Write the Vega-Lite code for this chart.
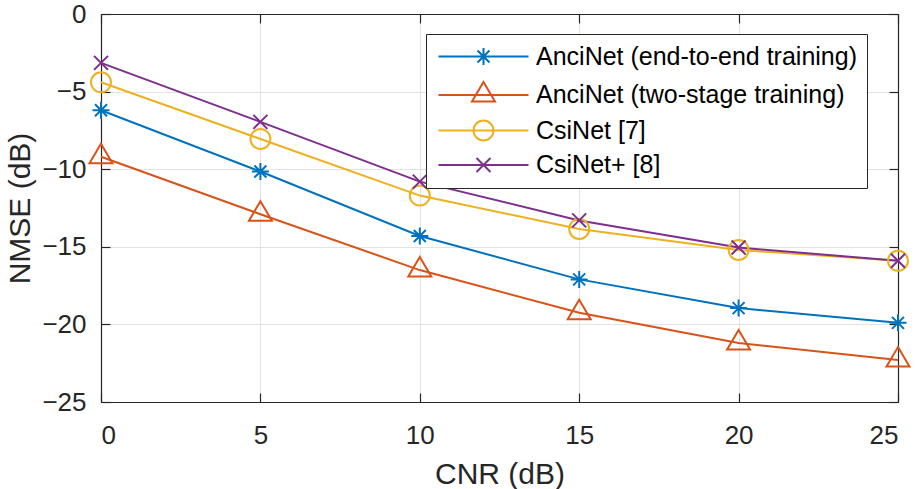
{
  "$schema": "https://vega.github.io/schema/vega-lite/v6.json",
  "width": 797,
  "height": 388,
  "autosize": "none",
  "padding": {"left": 101, "top": 14, "right": 19, "bottom": 87},
  "background": "white",
  "config": {
    "font": "Liberation Sans",
    "view": {"stroke": null},
    "axis": {
      "labelFont": "Liberation Sans",
      "titleFont": "Liberation Sans",
      "labelFontSize": 26,
      "titleFontSize": 30,
      "titleFontWeight": "normal",
      "labelColor": "#262626",
      "titleColor": "#262626",
      "domainColor": "#262626",
      "tickColor": "#262626",
      "gridColor": "#e3e3e3",
      "gridWidth": 1,
      "domainWidth": 1.2,
      "tickWidth": 1.2,
      "tickSize": -9
    },
    "legend": {
      "orient": "none",
      "legendX": 325,
      "legendY": 20,
      "title": null,
      "strokeColor": "#262626",
      "fillColor": "white",
      "padding": 10,
      "rowPadding": 7.5,
      "labelFontSize": 25,
      "labelFont": "Liberation Sans",
      "labelColor": "#000000",
      "labelOffset": 75,
      "labelLimit": 600,
      "symbolSize": 400,
      "symbolStrokeWidth": 2,
      "symbolFillColor": "transparent"
    }
  },
  "data": {
    "values": [
      {"cnr": 0, "nmse": -6.2, "method": "AnciNet (end-to-end training)"},
      {"cnr": 5, "nmse": -10.15, "method": "AnciNet (end-to-end training)"},
      {"cnr": 10, "nmse": -14.3, "method": "AnciNet (end-to-end training)"},
      {"cnr": 15, "nmse": -17.1, "method": "AnciNet (end-to-end training)"},
      {"cnr": 20, "nmse": -18.95, "method": "AnciNet (end-to-end training)"},
      {"cnr": 25, "nmse": -19.9, "method": "AnciNet (end-to-end training)"},
      {"cnr": 0, "nmse": -9.2, "method": "AnciNet (two-stage training)"},
      {"cnr": 5, "nmse": -12.9, "method": "AnciNet (two-stage training)"},
      {"cnr": 10, "nmse": -16.5, "method": "AnciNet (two-stage training)"},
      {"cnr": 15, "nmse": -19.25, "method": "AnciNet (two-stage training)"},
      {"cnr": 20, "nmse": -21.2, "method": "AnciNet (two-stage training)"},
      {"cnr": 25, "nmse": -22.3, "method": "AnciNet (two-stage training)"},
      {"cnr": 0, "nmse": -4.4, "method": "CsiNet [7]"},
      {"cnr": 5, "nmse": -8.05, "method": "CsiNet [7]"},
      {"cnr": 10, "nmse": -11.7, "method": "CsiNet [7]"},
      {"cnr": 15, "nmse": -13.85, "method": "CsiNet [7]"},
      {"cnr": 20, "nmse": -15.2, "method": "CsiNet [7]"},
      {"cnr": 25, "nmse": -15.9, "method": "CsiNet [7]"},
      {"cnr": 0, "nmse": -3.15, "method": "CsiNet+ [8]"},
      {"cnr": 5, "nmse": -6.95, "method": "CsiNet+ [8]"},
      {"cnr": 10, "nmse": -10.8, "method": "CsiNet+ [8]"},
      {"cnr": 15, "nmse": -13.3, "method": "CsiNet+ [8]"},
      {"cnr": 20, "nmse": -15.05, "method": "CsiNet+ [8]"},
      {"cnr": 25, "nmse": -15.9, "method": "CsiNet+ [8]"}
    ]
  },
  "layer": [
    {
      "mark": {"type": "line", "strokeWidth": 2},
      "encoding": {
        "x": {
          "field": "cnr", "type": "quantitative",
          "scale": {"domain": [0, 25], "nice": false, "zero": false},
          "axis": {"values": [0, 5, 10, 15, 20, 25], "title": "CNR (dB)", "labelPadding": 29, "titlePadding": 11, "grid": true, "orient": "bottom"}
        },
        "y": {
          "field": "nmse", "type": "quantitative",
          "scale": {"domain": [-25, 0], "nice": false, "zero": false},
          "axis": {"values": [-25, -20, -15, -10, -5, 0], "title": "NMSE (dB)", "labelPadding": 24, "titlePadding": 6, "grid": true, "orient": "left"}
        },
        "color": {
          "field": "method", "type": "nominal",
          "scale": {
            "domain": ["AnciNet (end-to-end training)", "AnciNet (two-stage training)", "CsiNet [7]", "CsiNet+ [8]"],
            "range": ["#0072BD", "#D95319", "#EDB120", "#7E2F8E"]
          },
          "legend": {
            "symbolType": "M-1,0L8,0",
            "encode": {
              "symbols": {
                "update": {
                  "fill": {"value": "transparent"},
                  "shape": {"signal": "datum.value === 'AnciNet (end-to-end training)' ? 'M-1,0L8,0M2.65,0L4.35,0M3.5,-0.85L3.5,0.85M2.9,-0.6L4.1,0.6M2.9,0.6L4.1,-0.6' : datum.value === 'AnciNet (two-stage training)' ? 'M-1,0L8,0M3.5,-1.3L4.65,0.65L2.35,0.65Z' : datum.value === 'CsiNet [7]' ? 'M-1,0L8,0M2.5,0A1,1 0 1,0 4.5,0A1,1 0 1,0 2.5,0' : 'M-1,0L8,0M2.8,-0.7L4.2,0.7M2.8,0.7L4.2,-0.7'"}
                }
              }
            }
          }
        },
        "detail": {"field": "method"}
      }
    },
    {
      "transform": [{"filter": "datum.method === 'AnciNet (end-to-end training)'"}],
      "mark": {"type": "point", "filled": false, "strokeWidth": 2, "size": 400, "opacity": 1, "shape": "M-0.85,0L0.85,0M0,-0.85L0,0.85M-0.6,-0.6L0.6,0.6M-0.6,0.6L0.6,-0.6"},
      "encoding": {
        "x": {"field": "cnr", "type": "quantitative",
          "axis": {"orient": "top", "values": [0, 5, 10, 15, 20, 25], "labels": false, "title": null, "grid": false}},
        "y": {"field": "nmse", "type": "quantitative",
          "axis": {"orient": "right", "values": [-25, -20, -15, -10, -5, 0], "labels": false, "title": null, "grid": false}},
        "color": {"field": "method", "type": "nominal", "legend": null}
      }
    },
    {
      "transform": [{"filter": "datum.method === 'AnciNet (two-stage training)'"}],
      "mark": {"type": "point", "filled": false, "strokeWidth": 2, "size": 400, "opacity": 1, "shape": "M0,-1.3L1.15,0.65L-1.15,0.65Z"},
      "encoding": {
        "x": {"field": "cnr", "type": "quantitative", "axis": null},
        "y": {"field": "nmse", "type": "quantitative", "axis": null},
        "color": {"field": "method", "type": "nominal", "legend": null}
      }
    },
    {
      "transform": [{"filter": "datum.method === 'CsiNet [7]'"}],
      "mark": {"type": "point", "filled": false, "strokeWidth": 2, "size": 400, "opacity": 1, "shape": "M-1,0A1,1 0 1,0 1,0A1,1 0 1,0 -1,0Z"},
      "encoding": {
        "x": {"field": "cnr", "type": "quantitative", "axis": null},
        "y": {"field": "nmse", "type": "quantitative", "axis": null},
        "color": {"field": "method", "type": "nominal", "legend": null}
      }
    },
    {
      "transform": [{"filter": "datum.method === 'CsiNet+ [8]'"}],
      "mark": {"type": "point", "filled": false, "strokeWidth": 2, "size": 400, "opacity": 1, "shape": "M-0.7,-0.7L0.7,0.7M-0.7,0.7L0.7,-0.7"},
      "encoding": {
        "x": {"field": "cnr", "type": "quantitative", "axis": null},
        "y": {"field": "nmse", "type": "quantitative", "axis": null},
        "color": {"field": "method", "type": "nominal", "legend": null}
      }
    }
  ],
  "resolve": {"axis": {"x": "independent", "y": "independent"}}
}
